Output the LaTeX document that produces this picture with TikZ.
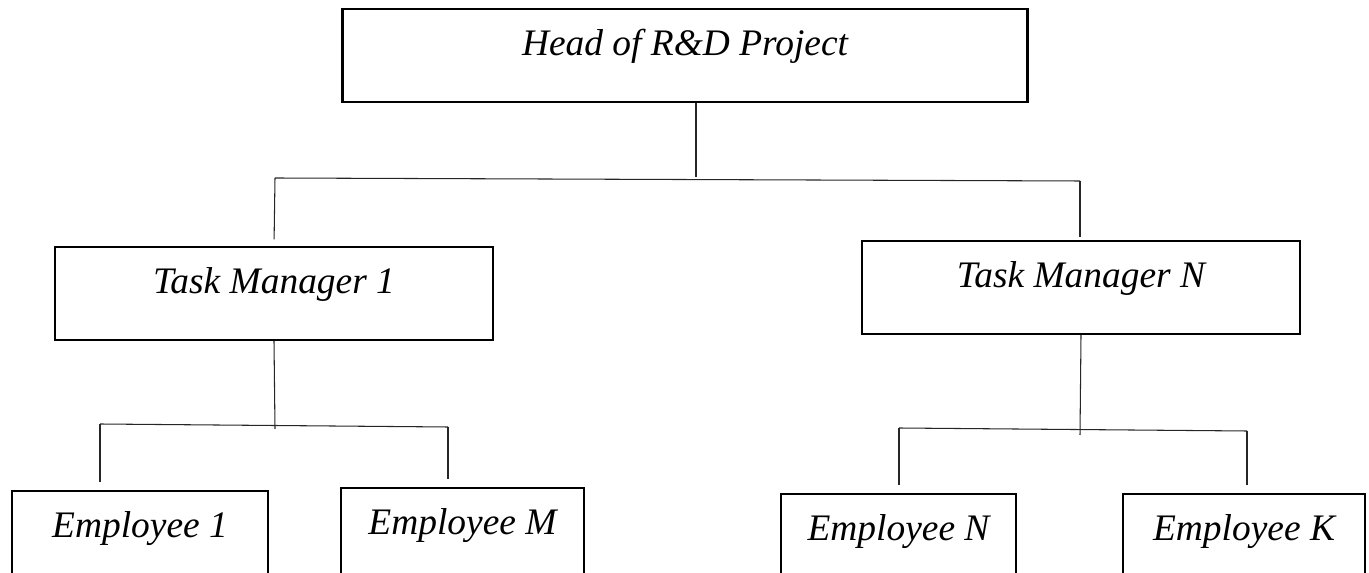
\documentclass[tikz,border=0pt]{standalone}
\usepackage{fontspec}
\setmainfont{Liberation Serif}
\usepackage{tikz}
\usetikzlibrary{positioning}
\usetikzlibrary{calc}
\tikzstyle{box}=[rectangle,draw=black,line width=1.4pt,minimum height=1.86cm,inner sep=0pt,text height=12pt,text depth=12pt,font=\fontsize{21.3}{25}\selectfont\itshape]
\tikzstyle{link} = [draw,line width=0.6pt,black!85]

\begin{document}
\begin{tikzpicture}[x=0.02cm,y=-0.02cm]

 \useasboundingbox (0,0) rectangle (1369,573);

 %Head
   \foreach \x/\y/\w/\name/\label in {685/55.5/13.7/head/Head of R\&D Project}
          \node[box, minimum width=\w cm] (\name) at (\x,\y) {\label};

 %Task managers
   \foreach \x/\y/\w/\name/\label in {274/293.5/8.76/tm1/Task Manager 1, 1081/287.5/8.76/tmn/Task Manager N}
          \node[box, minimum width=\w cm] (\name) at (\x,\y) {\label};

 %Employees
   \foreach \x/\y/\w/\name/\label in {140/537.5/5.12/emp1/Employee 1, 462.5/534.5/4.86/empm/Employee M,
                                      898.5/540.5/4.7/empn/Employee N, 1244/540.5/4.84/empk/Employee K}
          \node[box, minimum width=\w cm] (\name) at (\x,\y) {\label};

 %bus points
   \foreach \x/\y/\name in {696/177/hub, 275/178/tl, 1080/181/tr,
                            275/429/lb, 100/424/l1, 448/427/l2,
                            1080/435/rb, 899/428/r1, 1247/431/r2}
          \coordinate (\name) at (\x,\y);

 %top level
  \path[link] (head.south -| hub) -- (hub);
  \path[link] (tl) -- (tr);
  \path[link, shorten >=0.13cm] (tl) -- (tm1.north);
  \path[link, shorten >=0.06cm] (tr) -- (tr |- tmn.north);

 %second level
  \foreach \source/ \dest in {tm1.south/lb, l1/l2, tmn.south/rb, r1/r2}
         \path[link] (\source) -- (\dest);

  \foreach \source/ \dest in {l1/emp1, l2/empm, r1/empn, r2/empk}
         \path[link, shorten >=0.16cm] (\source) -- (\source |- \dest.north);

\end{tikzpicture}
\end{document}
